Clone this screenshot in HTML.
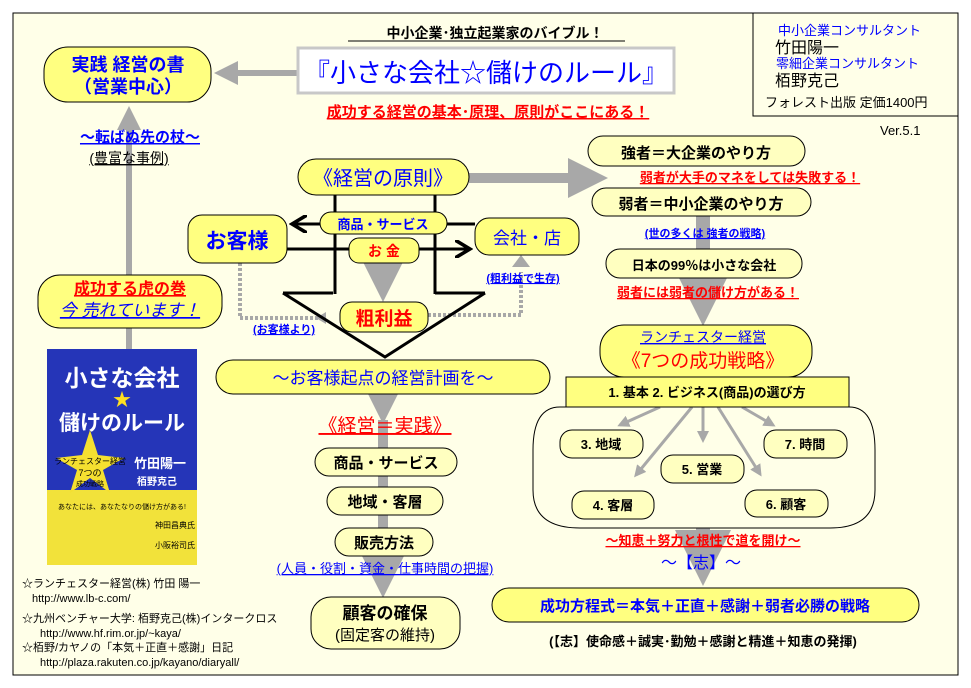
<!DOCTYPE html>
<html><head><meta charset="utf-8"><style>
html,body{margin:0;padding:0;background:#fff;}
svg{display:block;}
text{font-family:"Liberation Sans","Noto Sans CJK JP",sans-serif;}
</style></head><body>
<svg width="971" height="688" viewBox="0 0 971 688" xmlns="http://www.w3.org/2000/svg">
<defs>
<marker id="ah" markerWidth="4" markerHeight="4" refX="3" refY="2" orient="auto" markerUnits="strokeWidth"><path d="M0,0 L4,2 L0,4 Z" fill="#a8a8a8"/></marker>
<marker id="bh" markerWidth="6" markerHeight="6" refX="5" refY="3" orient="auto" markerUnits="strokeWidth"><path d="M0,0 L5,3 L0,6" fill="none" stroke="#000" stroke-width="1.2"/></marker>
</defs>
<rect x="13" y="13" width="945" height="662" fill="#ffffe8" stroke="#000" stroke-width="1"/>
<rect x="753" y="13" width="205" height="103" fill="#ffffe8" stroke="#000"/>
<text x="778" y="35" font-size="13" fill="#0000ff">中小企業コンサルタント</text>
<text x="775" y="53" font-size="16" fill="#000">竹田陽一</text>
<text x="776" y="68" font-size="13" fill="#0000ff">零細企業コンサルタント</text>
<text x="775" y="86" font-size="16" fill="#000">栢野克己</text>
<text x="765" y="107" font-size="13" fill="#000">フォレスト出版 定価1400円</text>
<text x="880" y="135" font-size="13" fill="#000">Ver.5.1</text>

<g stroke="#a8a8a8" fill="none">
<line x1="298" y1="73" x2="220" y2="73" stroke-width="6" marker-end="url(#ah)"/>
<line x1="129" y1="349" x2="129" y2="112" stroke-width="6" marker-end="url(#ah)"/>
<line x1="469" y1="178" x2="598" y2="178" stroke-width="10" marker-end="url(#ah)"/>
<line x1="703" y1="216" x2="703" y2="312" stroke-width="14" marker-end="url(#ah)"/>
<line x1="383" y1="263" x2="383" y2="292" stroke-width="10" marker-end="url(#ah)"/>
<line x1="383" y1="394" x2="383" y2="406" stroke-width="12"/>
<line x1="383" y1="406" x2="383" y2="412" stroke-width="12" marker-end="url(#ah)"/>
<line x1="383" y1="420" x2="383" y2="580" stroke-width="10"/>
<line x1="383" y1="570" x2="383" y2="586" stroke-width="12" marker-end="url(#ah)"/>
<line x1="703" y1="528" x2="703" y2="572" stroke-width="14" marker-end="url(#ah)"/>
<g stroke-width="3">
<line x1="660" y1="407" x2="620" y2="425" marker-end="url(#ah)"/>
<line x1="692" y1="407" x2="636" y2="475" marker-end="url(#ah)"/>
<line x1="703" y1="407" x2="703" y2="440" marker-end="url(#ah)"/>
<line x1="718" y1="407" x2="760" y2="474" marker-end="url(#ah)"/>
<line x1="742" y1="407" x2="773" y2="425" marker-end="url(#ah)"/>
</g>
<path d="M240,263 V318 H318" stroke-width="4" stroke-dasharray="3,2"/>
<path d="M428,315 H521 V272" stroke-width="4" stroke-dasharray="3,2"/>
<path d="M316,318 l10,-6 v12 z" fill="#a8a8a8" stroke="none"/>
<path d="M521,255 l-9,12 h18 z" fill="#a8a8a8" stroke="none"/>
</g>

<g stroke="#000" stroke-width="3" fill="none">
<line x1="335" y1="195" x2="335" y2="294"/>
<line x1="435" y1="195" x2="435" y2="294"/>
<line x1="475" y1="224" x2="292" y2="224" marker-end="url(#bh)"/>
<line x1="287" y1="249" x2="470" y2="249" marker-end="url(#bh)"/>
<path d="M283,293 H333 M435,293 H485 M283,293 L385,357 L485,293"/>
</g>

<g fill="#ffff80" stroke="#000" stroke-width="1">
<rect x="44" y="47" width="167" height="55" rx="24"/>
<rect x="38" y="275" width="184" height="53" rx="22"/>
<rect x="298" y="159" width="171" height="36" rx="18"/>
<rect x="188" y="215" width="99" height="48" rx="14"/>
<rect x="320" y="212" width="127" height="22" rx="11"/>
<rect x="349" y="238" width="70" height="25" rx="10"/>
<rect x="475" y="218" width="104" height="37" rx="14"/>
<rect x="340" y="302" width="88" height="30" rx="12"/>
<rect x="216" y="360" width="334" height="34" rx="17"/>
<rect x="566" y="377" width="283" height="30" rx="0"/>
<rect x="600" y="325" width="212" height="52" rx="24"/>
<rect x="492" y="588" width="427" height="34" rx="17"/>
</g>
<g fill="#ffffc0" stroke="#000" stroke-width="1">
<rect x="588" y="136" width="217" height="30" rx="15"/>
<rect x="592" y="188" width="219" height="28" rx="14"/>
<rect x="606" y="249" width="196" height="29" rx="14"/>
<rect x="315" y="448" width="142" height="28" rx="14"/>
<rect x="327" y="487" width="116" height="28" rx="14"/>
<rect x="335" y="528" width="98" height="28" rx="14"/>
<rect x="311" y="597" width="149" height="52" rx="20"/>
<rect x="560" y="430" width="83" height="28" rx="12"/>
<rect x="764" y="430" width="83" height="28" rx="12"/>
<rect x="661" y="455" width="83" height="28" rx="12"/>
<rect x="572" y="491" width="82" height="28" rx="12"/>
<rect x="745" y="490" width="83" height="27" rx="12"/>
</g>
<path d="M566,407 H560 Q533,407 533,450 V490 Q533,528 580,528 H830 Q875,528 875,490 V450 Q875,407 849,407" fill="none" stroke="#000"/>

<rect x="298" y="48" width="376" height="45" fill="#fff" stroke="#c8c8c8" stroke-width="3"/>
<text x="486" y="82" font-size="26" fill="#0000ff" text-anchor="middle">『小さな会社☆儲けのルール』</text>
<text x="495" y="38" font-size="14" font-weight="bold" text-anchor="middle">中小企業･独立起業家のバイブル！</text>
<line x1="348" y1="41" x2="625" y2="41" stroke="#000"/>
<text x="488" y="117" font-size="15" font-weight="bold" fill="#ff0000" text-anchor="middle" text-decoration="underline">成功する経営の基本･原理、原則がここにある！</text>

<text x="128" y="71" font-size="18" font-weight="bold" fill="#0000ff" text-anchor="middle">実践 経営の書</text>
<text x="128" y="93" font-size="18" font-weight="bold" fill="#0000ff" text-anchor="middle">（営業中心）</text>
<text x="140" y="142" font-size="15" font-weight="bold" fill="#0000ff" text-anchor="middle" text-decoration="underline">～転ばぬ先の杖～</text>
<text x="129" y="163" font-size="14" fill="#000" text-anchor="middle" text-decoration="underline">(豊富な事例)</text>
<text x="130" y="294" font-size="16" font-weight="bold" fill="#ff0000" text-anchor="middle" text-decoration="underline">成功する虎の巻</text>
<text x="130" y="316" font-size="17" font-style="italic" fill="#0000ff" text-anchor="middle" text-decoration="underline">今 売れています！</text>

<rect x="47" y="349" width="150" height="216" fill="#2535b8"/>
<rect x="47" y="490" width="150" height="75" fill="#f2e23a"/>
<text x="122" y="386" font-size="23" font-weight="bold" fill="#fff" text-anchor="middle">小さな会社</text>
<text x="122" y="406" font-size="18" fill="#ffe020" text-anchor="middle">★</text>
<text x="122" y="430" font-size="21" font-weight="bold" fill="#fff" text-anchor="middle">儲けのルール</text>
<path d="M90,430 L98,455 L124,458 L103,470 L110,493 L90,478 L70,493 L77,470 L56,458 L82,455 Z" fill="#f5e030"/>
<text x="90" y="464" font-size="8" fill="#000" text-anchor="middle">ランチェスター経営</text>
<text x="90" y="476" font-size="9" fill="#000" text-anchor="middle">7つの</text>
<text x="90" y="486" font-size="7" fill="#000" text-anchor="middle">成功戦略</text>
<text x="160" y="468" font-size="13" font-weight="bold" fill="#fff" text-anchor="middle">竹田陽一</text>
<text x="157" y="485" font-size="10" font-weight="bold" fill="#fff" text-anchor="middle">栢野克己</text>
<text x="122" y="509" font-size="7" fill="#000" text-anchor="middle">あなたには、あなたなりの儲け方がある!</text>
<text x="175" y="528" font-size="8" fill="#000" text-anchor="middle">神田昌典氏</text>
<text x="175" y="548" font-size="8" fill="#000" text-anchor="middle">小阪裕司氏</text>

<g font-size="11" fill="#000">
<text x="22" y="587">☆ランチェスター経営(株) 竹田 陽一</text>
<text x="32" y="602">http://www.lb-c.com/</text>
<text x="22" y="622">☆九州ベンチャー大学: 栢野克己(株)インタークロス</text>
<text x="40" y="637">http://www.hf.rim.or.jp/~kaya/</text>
<text x="22" y="651">☆栢野/カヤノの「本気＋正直＋感謝」日記</text>
<text x="40" y="666">http://plaza.rakuten.co.jp/kayano/diaryall/</text>
</g>

<text x="383" y="185" font-size="20" fill="#0000ff" text-anchor="middle">《経営の原則》</text>
<text x="237" y="248" font-size="21" font-weight="bold" fill="#0000ff" text-anchor="middle">お客様</text>
<text x="383" y="229" font-size="13" font-weight="bold" fill="#0000ff" text-anchor="middle">商品・サービス</text>
<text x="384" y="256" font-size="14" font-weight="bold" fill="#ff0000" text-anchor="middle">お 金</text>
<text x="527" y="244" font-size="17" fill="#0000ff" text-anchor="middle">会社・店</text>
<text x="384" y="325" font-size="19" font-weight="bold" fill="#ff0000" text-anchor="middle">粗利益</text>
<text x="284" y="333" font-size="11" font-weight="bold" fill="#0000ff" text-anchor="middle" text-decoration="underline">(お客様より)</text>
<text x="523" y="282" font-size="11" font-weight="bold" fill="#0000ff" text-anchor="middle" text-decoration="underline">(粗利益で生存)</text>
<text x="383" y="384" font-size="17" fill="#0000ff" text-anchor="middle">～お客様起点の経営計画を～</text>
<text x="385" y="432" font-size="19" fill="#ff0000" text-anchor="middle" text-decoration="underline">《経営＝実践》</text>
<text x="386" y="468" font-size="15" font-weight="bold" text-anchor="middle">商品・サービス</text>
<text x="385" y="507" font-size="15" font-weight="bold" text-anchor="middle">地域・客層</text>
<text x="384" y="548" font-size="15" font-weight="bold" text-anchor="middle">販売方法</text>
<text x="385" y="573" font-size="13" fill="#0000ff" text-anchor="middle" text-decoration="underline">(人員・役割・資金・仕事時間の把握)</text>
<text x="385" y="619" font-size="17" font-weight="bold" text-anchor="middle">顧客の確保</text>
<text x="385" y="640" font-size="15" text-anchor="middle">(固定客の維持)</text>

<text x="696" y="158" font-size="15" font-weight="bold" text-anchor="middle">強者＝大企業のやり方</text>
<text x="750" y="182" font-size="13" font-weight="bold" fill="#ff0000" text-anchor="middle" text-decoration="underline">弱者が大手のマネをしては失敗する！</text>
<text x="701" y="209" font-size="15" font-weight="bold" text-anchor="middle">弱者＝中小企業のやり方</text>
<text x="705" y="237" font-size="11" font-weight="bold" fill="#0000ff" text-anchor="middle" text-decoration="underline">(世の多くは 強者の戦略)</text>
<text x="704" y="270" font-size="13" font-weight="bold" text-anchor="middle">日本の99％は小さな会社</text>
<text x="708" y="297" font-size="13" font-weight="bold" fill="#ff0000" text-anchor="middle" text-decoration="underline">弱者には弱者の儲け方がある！</text>
<text x="703" y="342" font-size="14" fill="#0000ff" text-anchor="middle" text-decoration="underline">ランチェスター経営</text>
<text x="703" y="367" font-size="19" fill="#ff0000" text-anchor="middle">《7つの成功戦略》</text>
<text x="707" y="397" font-size="13" font-weight="bold" text-anchor="middle">1. 基本 2. ビジネス(商品)の選び方</text>
<text x="601" y="449" font-size="13" font-weight="bold" text-anchor="middle">3. 地域</text>
<text x="805" y="449" font-size="13" font-weight="bold" text-anchor="middle">7. 時間</text>
<text x="702" y="474" font-size="13" font-weight="bold" text-anchor="middle">5. 営業</text>
<text x="613" y="510" font-size="13" font-weight="bold" text-anchor="middle">4. 客層</text>
<text x="786" y="509" font-size="13" font-weight="bold" text-anchor="middle">6. 顧客</text>
<text x="703" y="545" font-size="13" font-weight="bold" fill="#ff0000" text-anchor="middle" text-decoration="underline">～知恵＋努力と根性で道を開け～</text>
<text x="701" y="568" font-size="16" fill="#0000ff" text-anchor="middle">～【志】～</text>
<text x="705" y="611" font-size="15" font-weight="bold" fill="#0000ff" text-anchor="middle">成功方程式＝本気＋正直＋感謝＋弱者必勝の戦略</text>
<text x="703" y="646" font-size="13" font-weight="bold" text-anchor="middle">(【志】使命感＋誠実･勤勉＋感謝と精進＋知恵の発揮)</text>
</svg>
</body></html>
